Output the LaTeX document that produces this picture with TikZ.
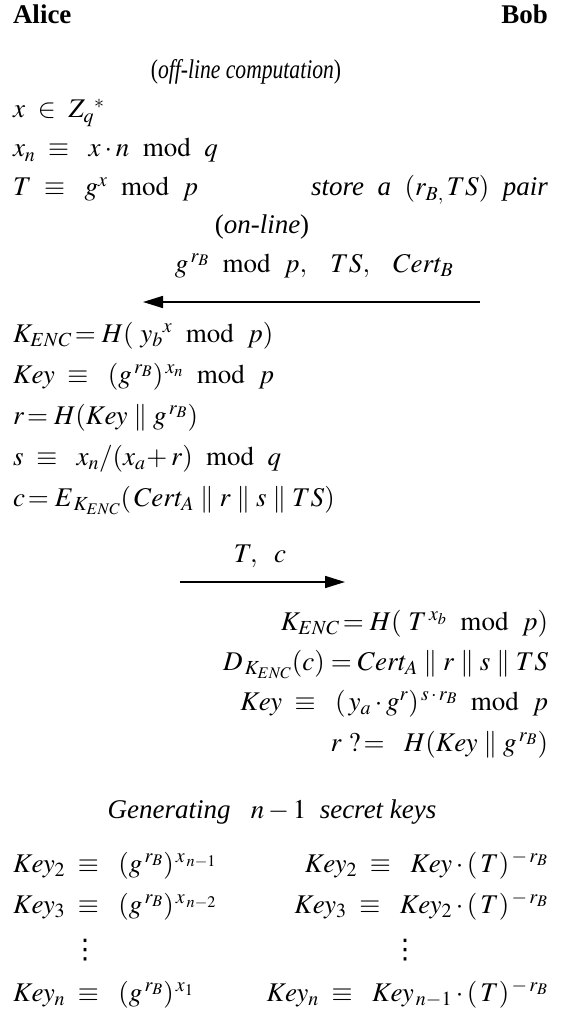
\documentclass[tikz,border=0pt]{standalone}
\usepackage{mathptmx}
\usepackage{graphicx}
\usepackage{fontspec}
\setmainfont{Liberation Serif}
\newfontfamily\dejavu{DejaVu Sans}
\usetikzlibrary{arrows.meta}
\newcommand{\md}{\ \ \mathrm{mod}\ \ }
\newcommand{\eqv}{\ \equiv\ \ }
\newcommand{\cat}{\;\|\;}
\newcommand{\vd}{{\dejavu ⋮}}
\begin{document}
\begin{tikzpicture}[x=1pt,y=-1pt,
  every node/.style={inner sep=0pt, outer sep=0pt, font=\fontsize{27}{31}\selectfont},
  lft/.style={anchor=base west},
  rgt/.style={anchor=base east},
  ctr/.style={anchor=base},
  msg/.style={line width=1.6pt, -{Triangle[length=20pt,width=12pt]}}]
\useasboundingbox (0,0) rectangle (562,1019);
\node[lft] (alice) at (13,24) {\textbf{Alice}};
\node[rgt] (bob) at (548,24) {\textbf{Bob}};
\node[ctr] (offline) at (246,79) {\scalebox{0.8}[1]{(\textit{off-line\ computation})}};
\node[lft] (a1) at (13,118) {$x\ \in\ Z_q{}^{*}$};
\node[lft] (a2) at (13,157) {$x_n \eqv x\cdot n \md q$};
\node[lft] (a3) at (13,196) {$T \eqv g^x \md p$};
\node[rgt] (b1) at (548,196) {\textit{store\ \ a}\ \ $(r_{B,}\,TS)$\ \ \textit{pair}};
\node[ctr] (online) at (262,233) {(\textit{on-line})};
\node[ctr] (m1) at (314,272) {$g^{\,r_B}\md p,\ \ \ TS,\ \ \ Cert_B$};
\coordinate (m1r) at (480,302);
\coordinate (m1l) at (143,302);
\draw[msg] (m1r) -- (m1l);
\node[lft] (a4) at (13,342) {$K_{ENC}\!= H(\ y_b{}^x \md p)$};
\node[lft] (a5) at (13,383) {$Key \eqv (g^{\,r_B})^{\,x_n} \md p$};
\node[lft] (a6) at (13,424) {$r\!= H(Key \cat g^{\,r_B})$};
\node[lft] (a7) at (13,465) {$s \eqv x_n/(x_a\!+ r) \md q$};
\node[lft] (a8) at (13,506) {$c\!= E_{\,K_{ENC}}(\,Cert_A \cat r \cat s \cat TS)$};
\node[ctr] (m2) at (260,562) {$T,\ \ c$};
\coordinate (m2l) at (180,582);
\coordinate (m2r) at (345,582);
\draw[msg] (m2l) -- (m2r);
\node[rgt] (b2) at (548,630) {$K_{ENC}\!= H(\ T^{\,x_b} \md p)$};
\node[rgt] (b3) at (548,670) {$D_{\,K_{ENC}}(c) = Cert_A \cat r \cat s \cat TS$};
\node[rgt] (b4) at (548,710) {$Key \eqv (\,y_a\cdot g^r)^{\,s\,\cdot\, r_B} \md p$};
\node[rgt] (b5) at (548,751) {$r\ ?\!=\ \ H(Key \cat g^{\,r_B})$};
\node[ctr] (gen) at (272,818) {\textit{Generating}\ \ \ $n-1$\ \ \textit{secret\ keys}};
\node[lft] (k2a) at (13,872) {$Key_2 \eqv (g^{\,r_B})^{\,x_{\,n-1}}$};
\node[rgt] (k2b) at (548,872) {$Key_2 \eqv Key\cdot(\,T)^{\,-\,r_B}$};
\node[lft] (k3a) at (13,913) {$Key_3 \eqv (g^{\,r_B})^{\,x_{\,n-2}}$};
\node[rgt] (k3b) at (548,913) {$Key_3 \eqv Key_2\cdot(\,T)^{\,-\,r_B}$};
\node[ctr] (da) at (85,958) {\vd};
\node[ctr] (db) at (405,958) {\vd};
\node[lft] (kna) at (13,1001) {$Key_n \eqv (g^{\,r_B})^{\,x_1}$};
\node[rgt] (knb) at (548,1001) {$Key_n \eqv Key_{\,n-1}\cdot(\,T)^{\,-\,r_B}$};
\end{tikzpicture}
\end{document}
